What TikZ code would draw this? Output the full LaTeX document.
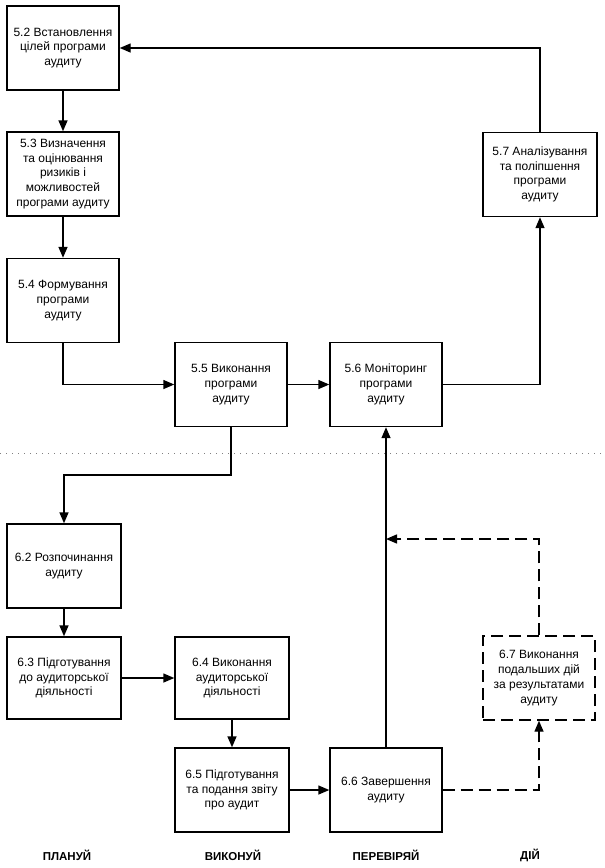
\documentclass[tikz,border=0pt]{standalone}
\usepackage{fontspec}
\setmainfont{Liberation Sans}
\usetikzlibrary{arrows.meta}
\begin{document}
\begin{tikzpicture}[x=1pt,y=-1pt,
  box/.style={draw, line width=1.4pt, minimum width=112pt, minimum height=84pt,
    inner sep=2pt, align=center, font=\fontsize{12}{14.7}\selectfont},
  dbox/.style={box, dash pattern=on 12pt off 6pt},
  arr/.style={line width=1.4pt, -{Triangle[length=11pt,width=9pt]}},
  darr/.style={arr, dash pattern=on 12pt off 6pt},
  lab/.style={font=\fontsize{11.5}{13}\selectfont\bfseries},
  sep/.style={line width=1pt, gray, dash pattern=on 1pt off 5pt}]
\useasboundingbox (0,0) rectangle (605,868);
\node[box] (n52) at (63,48) {5.2 Встановлення\\цілей програми\\аудиту};
\node[box] (n53) at (63,174) {5.3 Визначення\\та оцінювання\\ризиків і\\можливостей\\програми аудиту};
\node[box] (n54) at (63,300.5) {5.4 Формування\\програми\\аудиту};
\node[box] (n55) at (231,384.5) {5.5 Виконання\\програми\\аудиту};
\node[box] (n56) at (386,384.5) {5.6 Моніторинг\\програми\\аудиту};
\node[box, minimum width=114pt] (n57) at (540,174.5) {5.7 Аналізування\\та поліпшення\\програми\\аудиту};
\node[box, minimum width=114pt] (n62) at (64,566) {6.2 Розпочинання\\аудиту};
\node[box, minimum width=114pt, minimum height=82pt] (n63) at (64,678) {6.3 Підготування\\до аудиторської\\діяльності};
\node[box, minimum width=114pt, minimum height=82pt] (n64) at (232,678) {6.4 Виконання\\аудиторської\\діяльності};
\node[box, minimum width=114pt] (n65) at (232,790) {6.5 Підготування\\та подання звіту\\про аудит};
\node[box] (n66) at (386,790) {6.6 Завершення\\аудиту};
\node[dbox] (n67) at (539,678) {6.7 Виконання\\подальших дій\\за результатами\\аудиту};

\coordinate (dl) at (0,453);
\coordinate (dr) at (605,453);
\draw[sep] (dl) -- (dr);

\coordinate (c1) at (231,475);
\coordinate (c2) at (386,539);

\draw[arr] (n57.north) |- (n52.east);
\draw[arr] (n52) -- (n53);
\draw[arr] (n53) -- (n54);
\draw[arr] (n54.south) |- (n55.west);
\draw[arr] (n55) -- (n56);
\draw[arr] (n56.east) -| (n57.south);
\draw[arr] (n55.south) -- (c1) -| (n62.north);
\draw[arr] (n62) -- (n63);
\draw[arr] (n63) -- (n64);
\draw[arr] (n64) -- (n65);
\draw[arr] (n65) -- (n66);
\draw[arr] (n66) -- (n56);
\draw[darr] (n66.east) -| (n67.south);
\draw[darr] (n67.north) |- (c2);

\node[lab] (p1) at (67,855) {ПЛАНУЙ};
\node[lab] (p2) at (233,855) {ВИКОНУЙ};
\node[lab] (p3) at (386,855) {ПЕРЕВІРЯЙ};
\node[lab] (p4) at (530,855) {ДІЙ};
\end{tikzpicture}
\end{document}
